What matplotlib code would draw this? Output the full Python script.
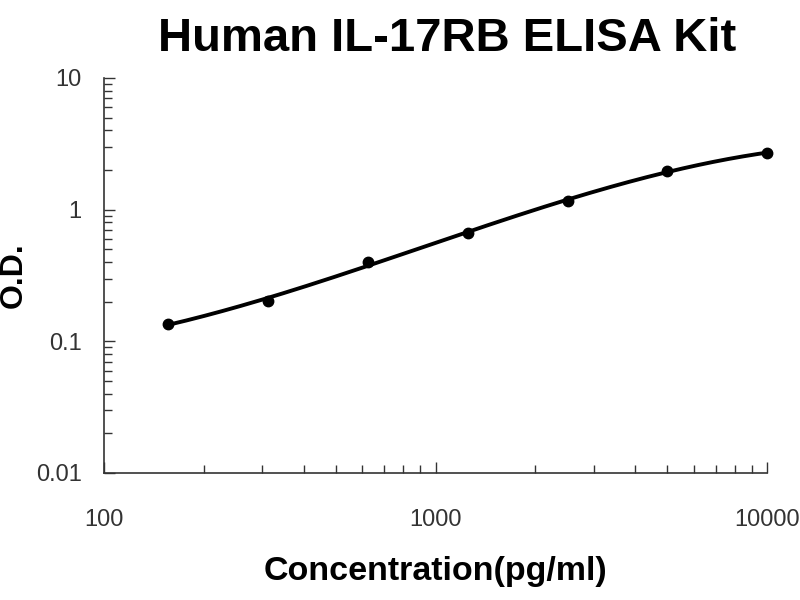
import numpy as np
import matplotlib.pyplot as plt
from matplotlib.ticker import LogLocator, FixedLocator, NullFormatter

plt.rcParams['font.family'] = ['Liberation Sans', 'DejaVu Sans']

conc = [156.25, 312.5, 625, 1250, 2500, 5000, 10000]
od = [0.135, 0.204, 0.40, 0.66, 1.17, 1.97, 2.70]
x_ticks = [100, 1000, 10000]
x_labels = ['100', '1000', '10000']
y_ticks = [0.01, 0.1, 1, 10]
y_labels = ['0.01', '0.1', '1', '10']

fig = plt.figure(figsize=(8, 6), dpi=100)
ax = fig.add_axes([0.13, 0.2117, 0.829, 0.6583])

# smooth trendline fitted in log-log space
lx = np.log10(conc)
ly = np.log10(od)
coef = np.polyfit(lx, ly, 3)
xs = np.linspace(lx[0], lx[-1], 200)
ax.plot(10**xs, 10**np.polyval(coef, xs), color='black', lw=2.8, zorder=2)
ax.plot(conc, od, 'o', color='black', ms=7.5, zorder=3, clip_on=False)

ax.set_xscale('log')
ax.set_yscale('log')
ax.set_xlim(100, 10000)
ax.set_ylim(0.01, 10)

ax.xaxis.set_major_locator(FixedLocator(x_ticks))
ax.set_xticklabels(x_labels)
ax.yaxis.set_major_locator(FixedLocator(y_ticks))
ax.set_yticklabels(y_labels)
ax.xaxis.set_minor_locator(LogLocator(base=10, subs=np.arange(2, 10)))
ax.yaxis.set_minor_locator(LogLocator(base=10, subs=np.arange(2, 10)))
ax.xaxis.set_minor_formatter(NullFormatter())
ax.yaxis.set_minor_formatter(NullFormatter())

ax.tick_params(which='both', direction='in', color='#333333', width=1)
ax.tick_params(which='major', length=8, labelsize=17, labelcolor='#333333')
ax.tick_params(which='minor', length=6)
ax.tick_params(axis='x', which='major', pad=26, labelsize=17)
ax.tick_params(axis='y', which='major', pad=16)

for s in ['top', 'right']:
    ax.spines[s].set_visible(False)
for s in ['left', 'bottom']:
    ax.spines[s].set_color('#333333')
    ax.spines[s].set_linewidth(1.2)

ax.set_xlabel('Concentration(pg/ml)', fontsize=24.5, fontweight='bold', labelpad=18)
ax.set_ylabel('O.D.', fontsize=23, fontweight='bold', va='center')
ax.yaxis.set_label_coords(-0.136, 0.5)
fig.suptitle('Human IL-17RB ELISA Kit', fontsize=34, fontweight='bold', x=0.559, y=0.972)

plt.savefig('out.png', dpi=100)
